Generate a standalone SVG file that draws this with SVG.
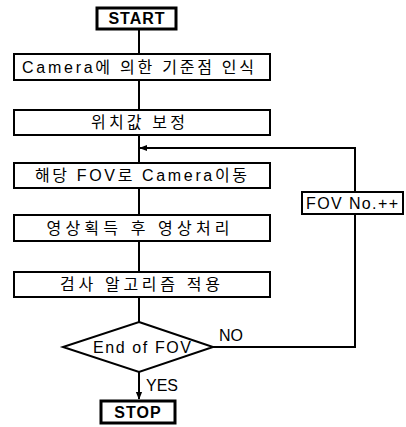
<svg xmlns="http://www.w3.org/2000/svg" width="406" height="427" viewBox="0 0 406 427">
<defs>
<style>
.box{fill:#fff;stroke:#000;stroke-width:2}
.term{fill:#fff;stroke:#000;stroke-width:3}
.ln{fill:none;stroke:#000;stroke-width:2}
text{font-family:"Liberation Sans","Noto Sans CJK KR",sans-serif;font-size:16px;fill:#000;text-anchor:middle}
.b{font-weight:bold;font-size:16px;letter-spacing:1px}
.s{text-anchor:start}
</style>
<marker id="ah" viewBox="0 0 10 10" refX="9" refY="5" markerWidth="8" markerHeight="8" markerUnits="userSpaceOnUse" orient="auto"><path d="M0,1 L10,5 L0,9 z" fill="#000"/></marker>
</defs>
<rect width="406" height="427" fill="#fff"/>
<g id="connectors">
<line class="ln" x1="139" y1="29" x2="139" y2="54"/>
<line class="ln" x1="139" y1="80" x2="139" y2="110"/>
<line class="ln" x1="139" y1="135" x2="139" y2="163"/>
<line class="ln" x1="139" y1="188" x2="139" y2="215"/>
<line class="ln" x1="139" y1="241" x2="139" y2="272"/>
<line class="ln" x1="139" y1="297" x2="139" y2="322"/>
<line class="ln" x1="139" y1="372" x2="139" y2="399" marker-end="url(#ah)"/>
<polyline class="ln" points="213,347 355,347 355,214"/>
<polyline class="ln" points="355,192 355,148 140,148" marker-end="url(#ah)"/>
<text class="s" x="219" y="341">NO</text>
<text class="s" x="146" y="391">YES</text>
</g>
<g id="start"><rect class="term" x="97" y="8" width="79" height="21"/><text class="b" x="137" y="24">START</text></g>
<g id="n1"><rect class="box" x="14" y="54" width="256" height="26"/><text x="138" y="73" textLength="232" lengthAdjust="spacing">Camera에 의한 기준점 인식</text></g>
<g id="n2"><rect class="box" x="14" y="110" width="256" height="25"/><text x="138" y="128" textLength="94" lengthAdjust="spacing">위치값 보정</text></g>
<g id="n3"><rect class="box" x="14" y="163" width="256" height="25"/><text x="141" y="181" textLength="212" lengthAdjust="spacing">해당 FOV로 Camera이동</text></g>
<g id="n4"><rect class="box" x="14" y="215" width="256" height="26"/><text x="138" y="234" textLength="183" lengthAdjust="spacing">영상획득 후 영상처리</text></g>
<g id="n5"><rect class="box" x="14" y="272" width="256" height="25"/><text x="140" y="290" textLength="160" lengthAdjust="spacing">검사 알고리즘 적용</text></g>
<g id="fov"><rect class="box" x="302" y="192" width="101" height="22"/><text x="352" y="209" textLength="92" lengthAdjust="spacing">FOV No.++</text></g>
<g id="decision"><polygon class="box" points="139,322 213,347 139,372 63,347"/><text x="142" y="353" textLength="98" lengthAdjust="spacing">End of FOV</text></g>
<g id="stop"><rect class="term" x="101" y="401" width="74" height="22"/><text class="b" x="138" y="418">STOP</text></g>
</svg>
